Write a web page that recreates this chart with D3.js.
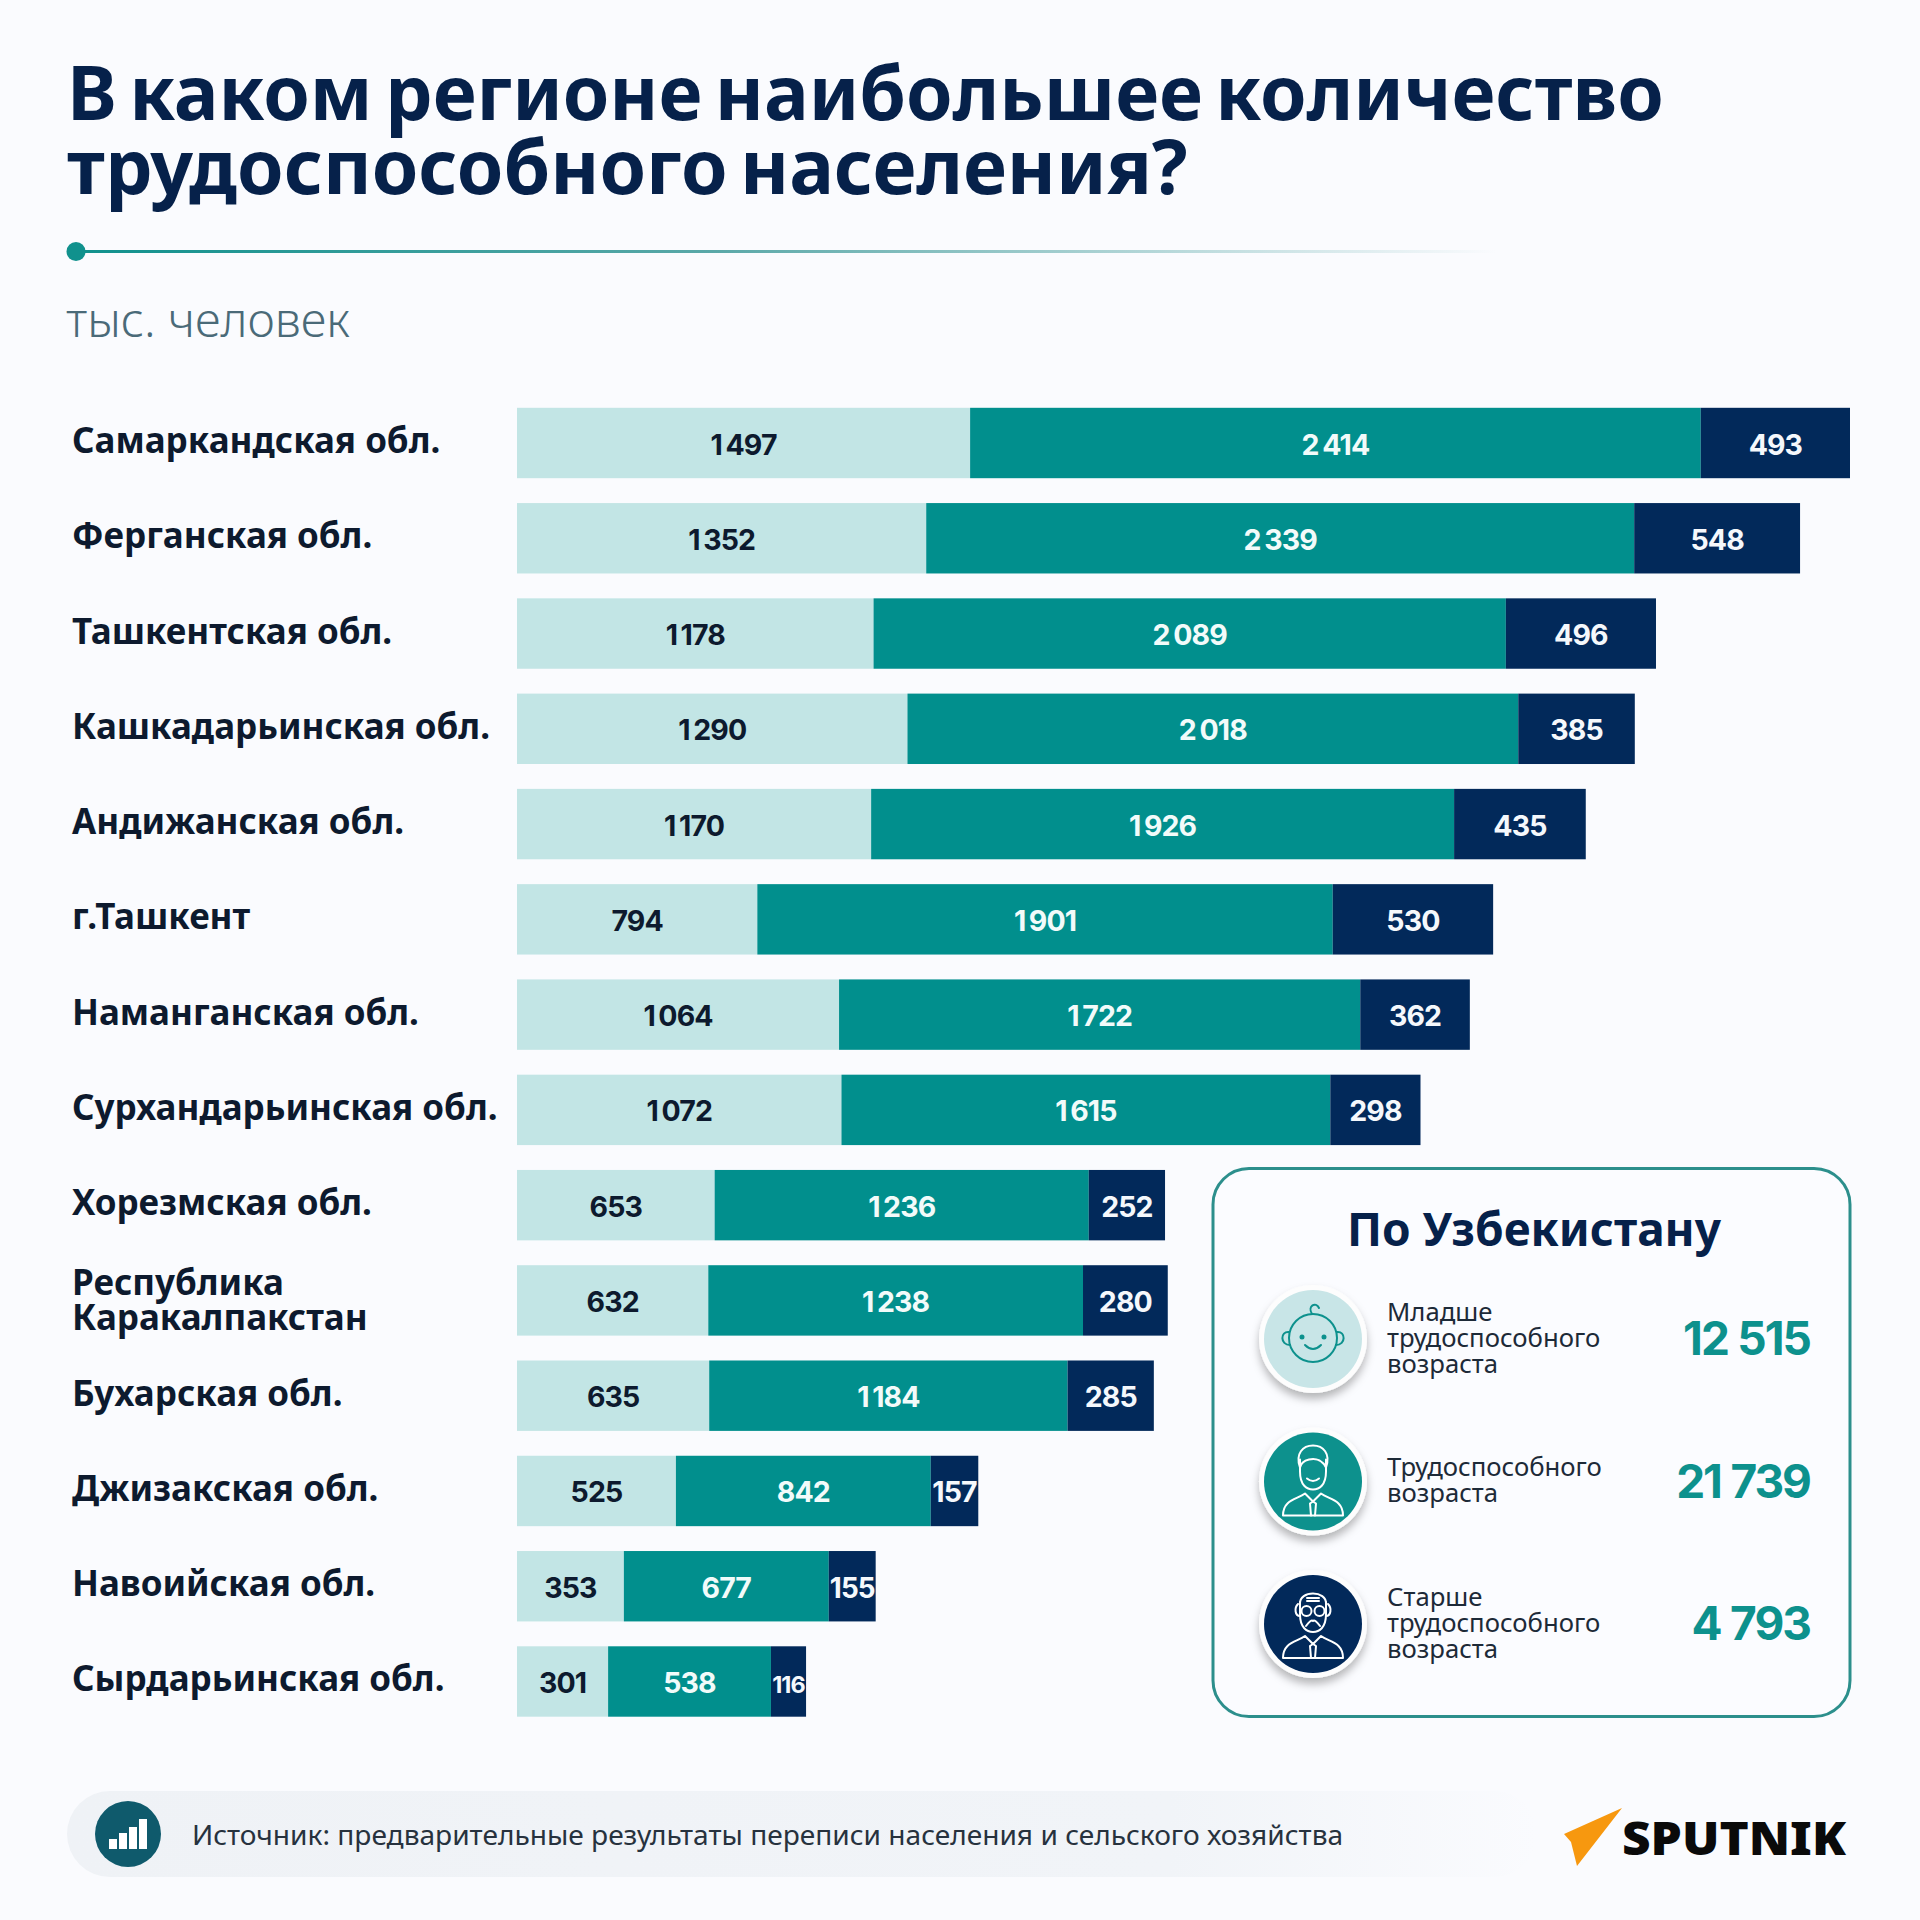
<!DOCTYPE html>
<html>
<head>
<meta charset="utf-8">
<script src="https://cdn.jsdelivr.net/npm/d3@7"></script>
<style>
  html, body { margin: 0; padding: 0; background: #fafbfe; }
  svg { display: block; }
  text { font-family: "Noto Sans", sans-serif; }
  .num { font-family: Inter, sans-serif; font-weight: 700; }
</style>
</head>
<body>
<div id="chart-area"></div>
<script>
let regions = ["Самаркандская обл.", "Ферганская обл.", "Ташкентская обл.", "Кашкадарьинская обл.",
    "Андижанская обл.", "г.Ташкент", "Наманганская обл.", "Сурхандарьинская обл.", "Хорезмская обл.",
    "Республика Каракалпакстан", "Бухарская обл.", "Джизакская обл.", "Навоийская обл.", "Сырдарьинская обл."];
let younger = [1497, 1352, 1178, 1290, 1170, 794, 1064, 1072, 653, 632, 635, 525, 353, 301];
let working = [2414, 2339, 2089, 2018, 1926, 1901, 1722, 1615, 1236, 1238, 1184, 842, 677, 538];
let older = [493, 548, 496, 385, 435, 530, 362, 298, 252, 280, 285, 157, 155, 116];

let seriesKeys = ["younger", "working", "older"];
let summaryLabels = [
    ["Младше", "трудоспособного", "возраста"],
    ["Трудоспособного", "возраста"],
    ["Старше", "трудоспособного", "возраста"]
];
let summaryValues = [12515, 21739, 4793];

let width = 1920;
let height = 1920;
let navy = "#02295a";
let teal = "#018f8d";
let pale = "#c2e5e5";

let svg = d3.select("#chart-area")
    .append("svg")
    .attr("width", width)
    .attr("height", height);

let defs = svg.append("defs");

let lineGrad = defs.append("linearGradient").attr("id", "line-grad");
lineGrad.append("stop").attr("offset", "0%").attr("stop-color", "#10918d");
lineGrad.append("stop").attr("offset", "45%").attr("stop-color", "#5aa8a8");
lineGrad.append("stop").attr("offset", "100%").attr("stop-color", "#fafbfe");

let pillGrad = defs.append("linearGradient").attr("id", "pill-grad");
pillGrad.append("stop").attr("offset", "0%").attr("stop-color", "#eff2f6");
pillGrad.append("stop").attr("offset", "75%").attr("stop-color", "#f1f4f8");
pillGrad.append("stop").attr("offset", "100%").attr("stop-color", "#fafbfe");

let shadow = defs.append("filter").attr("id", "shadow")
    .attr("x", "-30%").attr("y", "-30%").attr("width", "160%").attr("height", "170%");
shadow.append("feDropShadow").attr("dx", 0).attr("dy", 6).attr("stdDeviation", 4)
    .attr("flood-color", "#000").attr("flood-opacity", 0.28);

svg.append("rect").attr("width", width).attr("height", height).attr("fill", "#fafbfe");

// Title
let title = svg.append("g").attr("fill", "#06214a")
    .attr("font-size", 75).attr("font-weight", 700).attr("word-spacing", -7);
title.append("text").attr("x", 67).attr("y", 120).text("В каком регионе наибольшее количество");
title.append("text").attr("x", 67).attr("y", 194).text("трудоспособного населения?");

// Divider
svg.append("rect").attr("x", 76).attr("y", 250).attr("width", 1420).attr("height", 3)
    .attr("fill", "url(#line-grad)");
svg.append("circle").attr("cx", 76).attr("cy", 251.5).attr("r", 9.5).attr("fill", "#10918d");

svg.append("text").attr("x", 66).attr("y", 337)
    .attr("font-size", 47.5).attr("font-weight", 300).attr("fill", "#4a6a78")
    .text("тыс. человек");

// Stacked bars
let rows = regions.map((name, i) => ({ name: name, younger: younger[i], working: working[i], older: older[i] }));
let stacked = d3.stack().keys(seriesKeys)(rows);

let x = d3.scaleLinear()
    .domain([0, d3.max(rows, d => d.younger + d.working + d.older)])
    .range([517, 1850]);

let y = d3.scaleBand()
    .domain(regions)
    .range([407.8, 1716.7])
    .paddingInner(0.261);

let color = d3.scaleOrdinal().domain(seriesKeys).range([pale, teal, navy]);
let textColor = d3.scaleOrdinal().domain(seriesKeys).range(["#0d1a2e", "#f2fbfa", "#f5f8fc"]);
let fmt = d3.formatLocale({ decimal: ".", thousands: "\u2009", grouping: [3], currency: ["", ""] }).format(",");
let fmtBig = d3.formatLocale({ decimal: ".", thousands: "\u2005", grouping: [3], currency: ["", ""] }).format(",");

let layers = svg.append("g").attr("class", "bars-group")
    .selectAll("g")
    .data(stacked)
    .enter().append("g");

layers.selectAll("rect")
    .data(d => d.map(s => ({ key: d.key, s: s })))
    .enter().append("rect")
    .attr("fill", d => color(d.key))
    .attr("x", d => x(d.s[0]))
    .attr("y", d => y(d.s.data.name))
    .attr("width", d => x(d.s[1]) - x(d.s[0]))
    .attr("height", y.bandwidth());

layers.selectAll("text")
    .data(d => d.map(s => ({ key: d.key, s: s })))
    .enter().append("text")
    .attr("class", "num")
    .attr("x", d => (x(d.s[0]) + x(d.s[1])) / 2)
    .attr("y", d => y(d.s.data.name) + y.bandwidth() / 2 + 11.5)
    .attr("text-anchor", "middle")
    .attr("font-size", 28.5)
    .attr("letter-spacing", -0.9)
    .attr("fill", d => textColor(d.key))
    .text(d => fmt(d.s[1] - d.s[0]))
    .each(function (d) {
        // narrow segments: shrink the number so it stays inside
        let room = x(d.s[1]) - x(d.s[0]) - 2;
        let len = this.getComputedTextLength();
        if (len > room) d3.select(this).attr("font-size", 28.5 * room / len);
    });

// Region labels, axis with no line, left aligned at the margin
let yAxis = d3.axisLeft(y).tickSize(0);
let axisG = svg.append("g").attr("class", "y-axis").call(yAxis);
axisG.select(".domain").remove();
axisG.selectAll("text")
    .attr("x", 72)
    .attr("dy", null)
    .attr("y", 0)
    .attr("text-anchor", "start")
    .attr("font-size", 35)
    .attr("font-weight", 700)
    .attr("font-family", "Noto Sans")
    .attr("fill", "#0d1a2e")
    .each(function (d) {
        let el = d3.select(this);
        el.text(null);
        if (d === "Республика Каракалпакстан") {
            el.append("tspan").attr("x", 72).attr("y", -5).text("Республика");
            el.append("tspan").attr("x", 72).attr("y", 30).text("Каракалпакстан");
        } else {
            el.append("tspan").attr("x", 72).attr("y", 10).text(d);
        }
    });

// Summary card
let card = svg.append("g").attr("class", "card");
card.append("rect")
    .attr("x", 1213).attr("y", 1168.5).attr("width", 637).attr("height", 548).attr("rx", 36)
    .attr("fill", "#fbfcff").attr("stroke", "#2c8f8c").attr("stroke-width", 3);
card.append("text")
    .attr("x", 1534).attr("y", 1246)
    .attr("text-anchor", "middle")
    .attr("font-size", 46).attr("font-weight", 700).attr("fill", "#06214a")
    .text("По Узбекистану");

let rowY = d3.scalePoint().domain([0, 1, 2]).range([1339, 1624]);
let circleFill = ["#c8e5e7", "#0d918d", navy];
let iconStroke = ["#0d918d", "#ffffff", "#ffffff"];

summaryValues.forEach((v, i) => {
    let cy = rowY(i);
    let g = card.append("g");
    g.append("circle").attr("cx", 1313).attr("cy", cy).attr("r", 54)
        .attr("fill", "#fdfdfd").attr("filter", "url(#shadow)");
    g.append("circle").attr("cx", 1313).attr("cy", cy).attr("r", 49).attr("fill", circleFill[i]);

    let icon = g.append("g")
        .attr("transform", "translate(1313," + cy + ")")
        .attr("fill", "none")
        .attr("stroke", iconStroke[i])
        .attr("stroke-width", 2)
        .attr("stroke-linecap", "round")
        .attr("stroke-linejoin", "round");
    drawIcon(icon, i);

    let lines = summaryLabels[i];
    let lineH = 26;
    let top = cy - (lines.length - 1) * lineH / 2 + 7.5;
    lines.forEach((t, j) => {
        g.append("text")
            .attr("x", 1387).attr("y", top + j * lineH)
            .attr("font-size", 25.7).attr("fill", "#1d2a38")
            .text(t);
    });

    g.append("text")
        .attr("class", "num")
        .attr("x", 1810).attr("y", cy + 16)
        .attr("text-anchor", "end")
        .attr("font-size", 46).attr("letter-spacing", -2)
        .attr("fill", "#0d918d")
        .text(fmtBig(v));
});

function drawIcon(icon, i) {
    if (i === 0) {
        // baby
        icon.append("circle").attr("cy", -1).attr("r", 24);
        icon.append("path").attr("d", "M-24,-7 C-33,-8 -33,6 -23,6");
        icon.append("path").attr("d", "M24,-7 C33,-8 33,6 23,6");
        icon.append("path").attr("d", "M-1,-25 C-6,-33 3,-38 6,-31");
        icon.append("path").attr("d", "M-8,6 Q0,14 8,6");
        icon.append("circle").attr("cx", -11).attr("cy", -2).attr("r", 1.5).attr("fill", iconStroke[0]);
        icon.append("circle").attr("cx", 11).attr("cy", -2).attr("r", 1.5).attr("fill", iconStroke[0]);
    } else {
        // adult or old man
        icon.append("path").attr("d", "M-13,-22 L-13,-10 C-13,4 -6,8 0,8 C6,8 13,4 13,-10 L13,-22");
        icon.append("path").attr("d", "M-30,34 C-30,18 -16,18 -8,12 L0,20 L8,12 C16,18 30,18 30,34 Z");
        icon.append("path").attr("d", "M-3,22 L0,20 L3,22 L2,34 M-2,34 L-3,22");
        if (i === 1) {
            icon.append("path").attr("d", "M-13,-14 C-18,-28 -10,-36 0,-36 C10,-36 18,-28 13,-14 C10,-20 4,-24 -4,-22 C-8,-21 -12,-19 -13,-14 Z");
            icon.append("path").attr("d", "M-6,-3 Q0,2 6,-3");
        } else {
            icon.append("path").attr("d", "M-13,-20 C-14,-34 14,-34 13,-20");
            icon.append("path").attr("d", "M-15,-20 C-19,-16 -18,-8 -13,-8 M15,-20 C19,-16 18,-8 13,-8");
            icon.append("circle").attr("cx", -6.5).attr("cy", -13).attr("r", 5);
            icon.append("circle").attr("cx", 6.5).attr("cy", -13).attr("r", 5);
            icon.append("path").attr("d", "M-6,-26 L6,-26 M-6,-23 L6,-23");
            icon.append("path").attr("d", "M-7,2 Q-2,-5 0,-3 Q2,-5 7,2");
        }
    }
}

// Source strip
svg.append("rect")
    .attr("x", 67).attr("y", 1791).attr("width", 1470).attr("height", 86).attr("rx", 43)
    .attr("fill", "url(#pill-grad)");
svg.append("circle").attr("cx", 128).attr("cy", 1834).attr("r", 33).attr("fill", "#0f5a6c");
let iconBars = [10, 16, 22, 30];
svg.append("g").attr("fill", "#fff")
    .selectAll("rect").data(iconBars).enter().append("rect")
    .attr("x", (d, i) => 109 + i * 10)
    .attr("y", d => 1849 - d)
    .attr("width", 8)
    .attr("height", d => d);
svg.append("text").attr("x", 192).attr("y", 1845)
    .attr("font-size", 28.1).attr("fill", "#27323e")
    .text("Источник: предварительные результаты переписи населения и сельского хозяйства");

// Logo
svg.append("path").attr("d", "M1622,1808 L1564,1834 L1571,1842 L1577,1866 Z").attr("fill", "#f7980f");
svg.append("text").attr("x", 1622).attr("y", 1855)
    .attr("font-family", "Inter").attr("font-size", 46).attr("font-weight", 900)
    .attr("fill", "#0a0a0a")
    .attr("textLength", 224).attr("lengthAdjust", "spacingAndGlyphs")
    .text("SPUTNIK");
</script>
</body>
</html>
